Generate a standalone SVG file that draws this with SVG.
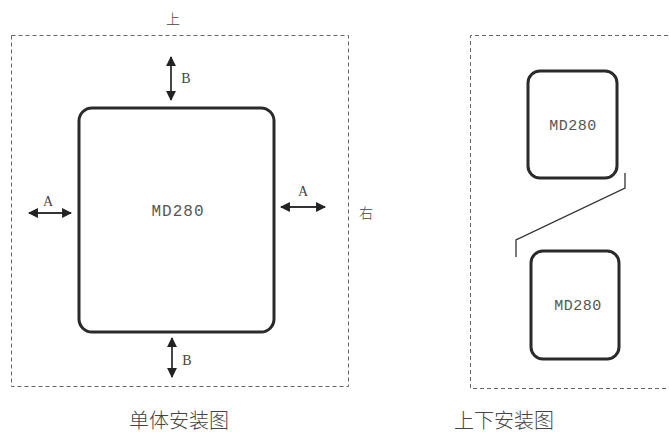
<svg xmlns="http://www.w3.org/2000/svg" width="669" height="432" viewBox="0 0 669 432">
<defs>
<style>
.dash{fill:none;stroke:#666;stroke-width:1;stroke-dasharray:4 3}
.box{fill:#fff;stroke:#2a2a2a;stroke-width:3}
.md{font-family:"Liberation Mono",monospace;fill:#555;text-anchor:middle;dominant-baseline:central}
.lbl{font-family:"Liberation Serif",serif;font-size:14px;fill:#444;dominant-baseline:central;text-anchor:middle}
.cjk{font-family:"Noto Sans CJK SC","Liberation Sans",sans-serif;font-weight:300;fill:#444;text-anchor:middle;dominant-baseline:central}
.arr{stroke:#333;stroke-width:1.8;fill:none;marker-start:url(#ah);marker-end:url(#ah)}
.ln{stroke:#333;stroke-width:1.3;fill:none}
</style>
<marker id="ah" viewBox="0 0 10 10" refX="9" refY="5" markerWidth="5.5" markerHeight="5.5" orient="auto-start-reverse" markerUnits="strokeWidth">
<path d="M0,0 L10,5 L0,10 z" fill="#222"/>
</marker>
</defs>
<rect class="dash" x="11.5" y="35.5" width="337" height="351"/>
<path class="dash" d="M675,35.5 H470.5 V388.5 H675"/>
<text class="cjk" x="173" y="18" font-size="14" fill="#666">上</text>
<text class="cjk" x="366" y="212" font-size="14" fill="#666">右</text>
<g id="main">
<rect class="box" x="79" y="108" width="195" height="224" rx="13"/>
<text class="md" x="178" y="212" font-size="16" letter-spacing="1">MD280</text>
</g>
<g id="connectors">
<line class="arr" x1="171" y1="57" x2="171" y2="100"/>
<line class="arr" x1="172" y1="338" x2="172" y2="377"/>
<line class="arr" x1="29" y1="213" x2="71" y2="213"/>
<line class="arr" x1="281" y1="207" x2="325" y2="207"/>
<polyline class="ln" points="625,173 625,188 516,240 516,257"/>
</g>
<text class="lbl" x="186" y="78">B</text>
<text class="lbl" x="187" y="360">B</text>
<text class="lbl" x="48" y="201">A</text>
<text class="lbl" x="303" y="191">A</text>
<g id="upper">
<rect class="box" x="528" y="71" width="89" height="107" rx="12" stroke-width="2.5"/>
<text class="md" x="573" y="126" font-size="15" letter-spacing="0.5">MD280</text>
</g>
<g id="lower">
<rect class="box" x="531" y="251" width="88" height="108" rx="12" stroke-width="2.5"/>
<text class="md" x="578" y="306" font-size="15" letter-spacing="0.5">MD280</text>
</g>
<text class="cjk" x="179" y="419" font-size="20">单体安装图</text>
<text class="cjk" x="504" y="419" font-size="20">上下安装图</text>
</svg>
